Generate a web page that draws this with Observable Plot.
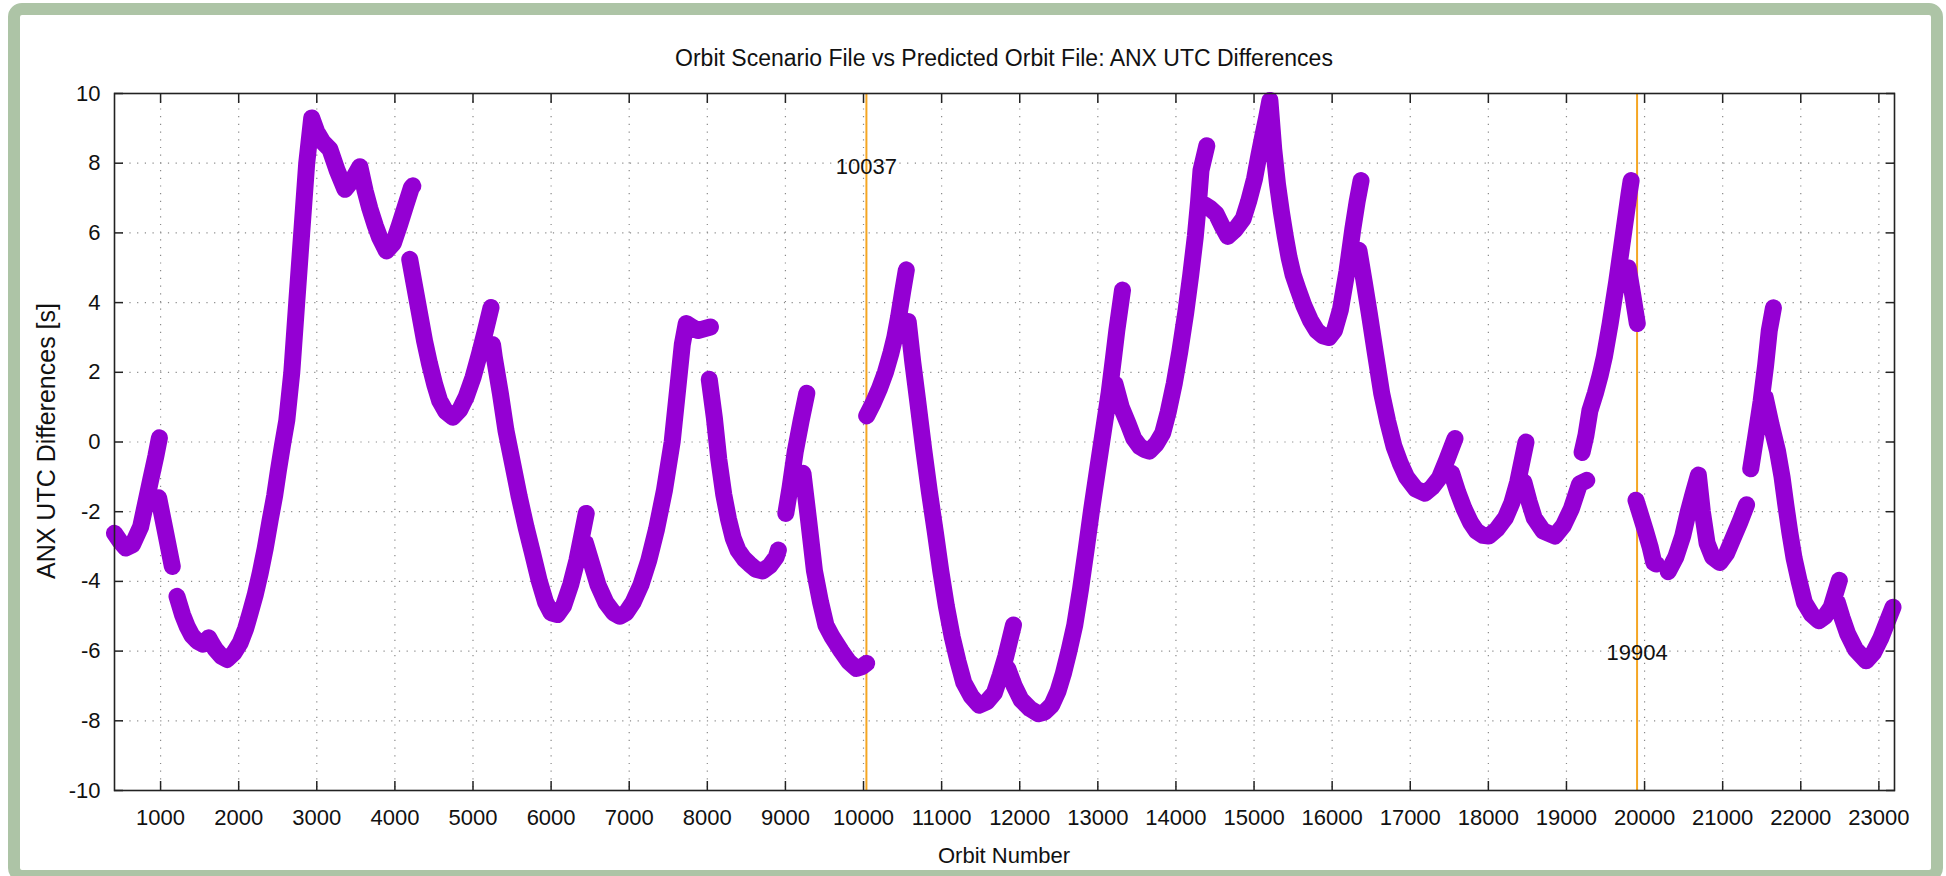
<!DOCTYPE html>
<html>
<head>
<meta charset="utf-8">
<script src="https://cdn.jsdelivr.net/npm/d3@7"></script>
<script src="https://cdn.jsdelivr.net/npm/@observablehq/plot@0.6"></script>
<style>
  html, body { margin: 0; padding: 0; background: #ffffff; }
  #wrap { position: relative; width: 1946px; height: 876px; overflow: hidden;
          font-family: "Liberation Sans", Arial, Helvetica, sans-serif; color: #111; }
  #border { position: absolute; left: 8px; top: 3px; width: 1935px; height: 879px;
            box-sizing: border-box; border: 12px solid #adc4a6; border-radius: 14px; background: #fff; }
  #title { position: absolute; left: 114px; width: 1780px; top: 44px; text-align: center;
           font-size: 23px; line-height: 28px; white-space: nowrap; }
  #xlabel { position: absolute; left: 114px; width: 1780px; top: 843px; text-align: center;
            font-size: 22px; line-height: 26px; white-space: nowrap; }
  #ylabel { position: absolute; left: 46px; top: 441px; transform: translate(-50%, -50%) rotate(-90deg);
            font-size: 25px; line-height: 28px; white-space: nowrap; }
  #chart { position: absolute; left: 0; top: 0; }
</style>
</head>
<body>
<div id="wrap">
  <div id="border"></div>
  <div id="chart"></div>
  <div id="title">Orbit Scenario File vs Predicted Orbit File: ANX UTC Differences</div>
  <div id="ylabel">ANX UTC Differences [s]</div>
  <div id="xlabel">Orbit Number</div>
</div>
<script>
// Orbit numbers and ANX UTC differences [s]; NaN separates the discontinuous pieces
const orbit = [
  410, 480, 553, 640, 745, 872, 940, 985, NaN,
  975, 1060, 1150, NaN,
  1210, 1280, 1340, 1400, 1468, 1540, 1590, 1616, 1660, 1702, 1780, 1851, 1940, 2020, 2090, 2148, 2210, 2276, 2340, 2403, 2460, 2509, 2560, 2616, 2680, 2743, 2807, 2871, 2935, 3000, 3080, 3168, 3260, 3360, 3450, 3551, 3620, 3679, 3750, 3806, 3891, 3980, 4061, 4140, 4210, 4230, NaN,
  4190, 4250, 4317, 4380, 4444, 4510, 4572, 4650, 4742, 4830, 4912, 5000, 5082, 5160, 5231, NaN,
  5250, 5273, 5350, 5422, 5510, 5592, 5680, 5762, 5850, 5930, 6000, 6080, 6160, 6250, 6330, 6410, 6450, NaN,
  6440, 6520, 6600, 6700, 6800, 6880, 6960, 7050, 7150, 7250, 7350, 7450, 7550, 7620, 7680, 7730, 7800, 7880, 7960, 8040, NaN,
  8025, 8090, 8147, 8210, 8270, 8330, 8392, 8470, 8540, 8620, 8710, 8800, 8882, 8910, NaN,
  9005, 9060, 9127, 9200, 9274, NaN,
  9225, 9300, 9372, 9450, 9519, 9600, 9715, 9810, 9911, 9980, 10040, NaN,
  10040, 10120, 10205, 10280, 10352, 10400, 10450, 10500, 10548, NaN,
  10572, 10630, 10695, 10770, 10842, 10920, 10989, 11060, 11136, 11210, 11283, 11380, 11479, 11580, 11675, 11750, 11822, 11920, NaN,
  11846, 11930, 12018, 12130, 12238, 12320, 12410, 12490, 12557, 12630, 12704, 12780, 12851, 12920, 12998, 13070, 13145, 13200, 13243, 13316, NaN,
  13219, 13300, 13390, 13460, 13537, 13600, 13660, 13750, 13831, 13900, 13978, 14050, 14125, 14190, 14248, 14290, 14321, 14395, NaN,
  14370, 14440, 14517, 14590, 14664, 14760, 14860, 14930, 15007, 15060, 15105, 15160, 15203, 15252, 15300, 15350, 15400, 15448, 15500, 15560, 15640, 15720, 15800, 15880, 15960, 16030, 16106, 16190, 16264, 16320, 16370, NaN,
  16343, 16410, 16475, 16550, 16634, 16710, 16792, 16870, 16950, 17070, 17188, 17280, 17373, 17470, 17573, NaN,
  17531, 17610, 17690, 17770, 17848, 17930, 18006, 18110, 18218, 18300, 18376, 18482, NaN,
  18455, 18520, 18587, 18700, 18851, 18960, 19062, 19168, 19260, NaN,
  19200, 19250, 19300, 19370, 19430, 19485, 19560, 19643, 19700, 19749, 19800, 19828, NaN,
  19790, 19850, 19907, NaN,
  19890, 19950, 20013, 20070, 20118, 20150, NaN,
  20303, 20400, 20488, 20560, 20620, 20689, 20740, 20800, 20870, 20963, 21050, 21122, 21220, 21306, NaN,
  21359, 21420, 21491, 21550, 21597, 21650, NaN,
  21544, 21620, 21702, 21760, 21808, 21860, 21914, 21980, 22046, 22140, 22230, 22310, 22389, 22494, NaN,
  22468, 22530, 22600, 22700, 22838, 22930, 23022, 23100, 23181
];
const anxDiff = [
  -2.62, -2.85, -3.04, -2.95, -2.43, -1.1, -0.4, 0.12, NaN,
  -1.6, -2.55, -3.57, NaN,
  -4.43, -4.95, -5.29, -5.55, -5.71, -5.8, -5.7, -5.62, -5.8, -5.95, -6.15, -6.24, -6.05, -5.76, -5.35, -4.9, -4.4, -3.76, -3.05, -2.24, -1.55, -0.81, -0.1, 0.62, 2.0, 4.0, 6.0, 8.0, 9.3, 8.9, 8.6, 8.4, 7.8, 7.25, 7.5, 7.9, 7.2, 6.7, 6.2, 5.86, 5.48, 5.7, 6.24, 6.8, 7.29, 7.35, NaN,
  5.24, 4.5, 3.67, 2.9, 2.24, 1.65, 1.19, 0.88, 0.71, 0.92, 1.29, 1.85, 2.52, 3.2, 3.86, NaN,
  2.8, 2.43, 1.4, 0.33, -0.65, -1.57, -2.45, -3.19, -4.0, -4.6, -4.9, -4.95, -4.7, -4.1, -3.4, -2.5, -2.05, NaN,
  -2.9, -3.5, -4.1, -4.6, -4.9, -5.0, -4.9, -4.6, -4.1, -3.4, -2.5, -1.4, 0.0, 1.5, 2.8, 3.4, 3.3, 3.2, 3.25, 3.3, NaN,
  1.8, 0.7, -0.5, -1.5, -2.2, -2.75, -3.1, -3.35, -3.5, -3.65, -3.7, -3.55, -3.3, -3.1, NaN,
  -2.05, -1.3, -0.26, 0.6, 1.4, NaN,
  -0.9, -2.3, -3.7, -4.6, -5.26, -5.6, -6.0, -6.3, -6.5, -6.45, -6.35, NaN,
  0.75, 1.1, 1.54, 2.0, 2.56, 3.0, 3.6, 4.3, 4.94, NaN,
  3.46, 2.3, 1.15, -0.2, -1.41, -2.6, -3.7, -4.7, -5.6, -6.3, -6.9, -7.3, -7.55, -7.45, -7.2, -6.7, -6.15, -5.25, NaN,
  -6.5, -7.0, -7.4, -7.65, -7.8, -7.75, -7.55, -7.15, -6.66, -6.0, -5.26, -4.2, -3.08, -1.95, -0.77, 0.3, 1.41, 2.4, 3.2, 4.36, NaN,
  1.67, 1.0, 0.51, 0.1, -0.13, -0.22, -0.26, -0.05, 0.26, 0.85, 1.67, 2.6, 3.7, 4.8, 5.9, 6.9, 7.8, 8.5, NaN,
  6.8, 6.7, 6.54, 6.2, 5.9, 6.1, 6.4, 6.9, 7.56, 8.2, 8.7, 9.3, 9.8, 8.4, 7.4, 6.6, 5.9, 5.3, 4.8, 4.4, 3.9, 3.5, 3.2, 3.05, 3.0, 3.2, 3.8, 4.9, 6.1, 6.9, 7.5, NaN,
  5.5, 4.6, 3.7, 2.6, 1.4, 0.6, -0.13, -0.6, -1.0, -1.35, -1.47, -1.3, -1.03, -0.5, 0.1, NaN,
  -0.9, -1.45, -1.92, -2.3, -2.56, -2.68, -2.7, -2.5, -2.18, -1.75, -1.15, 0.0, NaN,
  -1.15, -1.7, -2.18, -2.55, -2.7, -2.4, -1.92, -1.2, -1.1, NaN,
  -0.3, 0.2, 0.9, 1.4, 1.9, 2.44, 3.4, 4.6, 5.5, 6.28, 7.1, 7.5, NaN,
  5.0, 4.2, 3.4, NaN,
  -1.67, -2.1, -2.56, -3.0, -3.46, -3.5, NaN,
  -3.72, -3.3, -2.7, -2.0, -1.5, -0.95, -2.0, -2.9, -3.3, -3.46, -3.2, -2.82, -2.3, -1.8, NaN,
  -0.77, 0.1, 1.15, 2.2, 3.2, 3.85, NaN,
  1.28, 0.5, -0.26, -1.0, -1.8, -2.6, -3.33, -4.0, -4.6, -4.95, -5.13, -5.0, -4.74, -3.97, NaN,
  -4.6, -5.05, -5.5, -5.95, -6.28, -6.05, -5.64, -5.2, -4.74
];

// Marked orbits (vertical lines) and the height of their labels
const eventOrbits = [10037, 19904];
const eventLabels = ["10037", "19904"];
const eventLabelY = [7.9, -6.05];

// Axis ticks
const xTicks = [1000, 2000, 3000, 4000, 5000, 6000, 7000, 8000, 9000, 10000, 11000, 12000,
                13000, 14000, 15000, 16000, 17000, 18000, 19000, 20000, 21000, 22000, 23000];
const yTicks = [-10, -8, -6, -4, -2, 0, 2, 4, 6, 8, 10];

const points = orbit.map((o, i) => ({orbit: o, diff: anxDiff[i]}));
const events = eventOrbits.map((o, i) => ({orbit: o, label: eventLabels[i], y: eventLabelY[i]}));

const tickColor = "#222";
const chart = Plot.plot({
  width: 1946,
  height: 876,
  marginLeft: 114,
  marginRight: 52,
  marginTop: 93,
  marginBottom: 86,
  style: {background: "transparent", fontFamily: "'Liberation Sans', Arial, Helvetica, sans-serif", fontSize: "22px", color: "#111"},
  x: {domain: [410, 23200], label: null},
  y: {domain: [-10, 10], label: null},
  marks: [
    Plot.gridX(xTicks, {stroke: "#8a8a8a", strokeOpacity: 1, strokeWidth: 1.2, strokeDasharray: "1.2,6.5"}),
    Plot.gridY(yTicks, {stroke: "#8a8a8a", strokeOpacity: 1, strokeWidth: 1.2, strokeDasharray: "1.2,6.5"}),
    Plot.ruleX(events, {x: "orbit", stroke: "#f5a623", strokeWidth: 2}),
    Plot.line(points, {x: "orbit", y: "diff", stroke: "#9400d3", strokeWidth: 17, strokeLinejoin: "round", strokeLinecap: "round"}),
    Plot.text(events, {x: "orbit", y: "y", text: "label", fontSize: 22, fill: "#111"}),
    Plot.frame({stroke: tickColor, strokeWidth: 1.6}),
    Plot.axisX(xTicks, {anchor: "bottom", tickSize: 0, tickPadding: 19, tickFormat: d => String(d), label: null, fill: "#111"}),
    Plot.axisX(xTicks, {anchor: "bottom", tickSize: -9, fill: "none", stroke: tickColor, strokeWidth: 1.5, label: null}),
    Plot.axisX(xTicks, {anchor: "top", tickSize: -9, fill: "none", stroke: tickColor, strokeWidth: 1.5, label: null}),
    Plot.axisY(yTicks, {anchor: "left", tickSize: 0, tickPadding: 14, tickFormat: d => String(d), label: null, fill: "#111"}),
    Plot.axisY(yTicks, {anchor: "left", tickSize: -9, fill: "none", stroke: tickColor, strokeWidth: 1.5, label: null}),
    Plot.axisY(yTicks, {anchor: "right", tickSize: -9, fill: "none", stroke: tickColor, strokeWidth: 1.5, label: null})
  ]
});
document.getElementById("chart").appendChild(chart);
</script>
</body>
</html>
